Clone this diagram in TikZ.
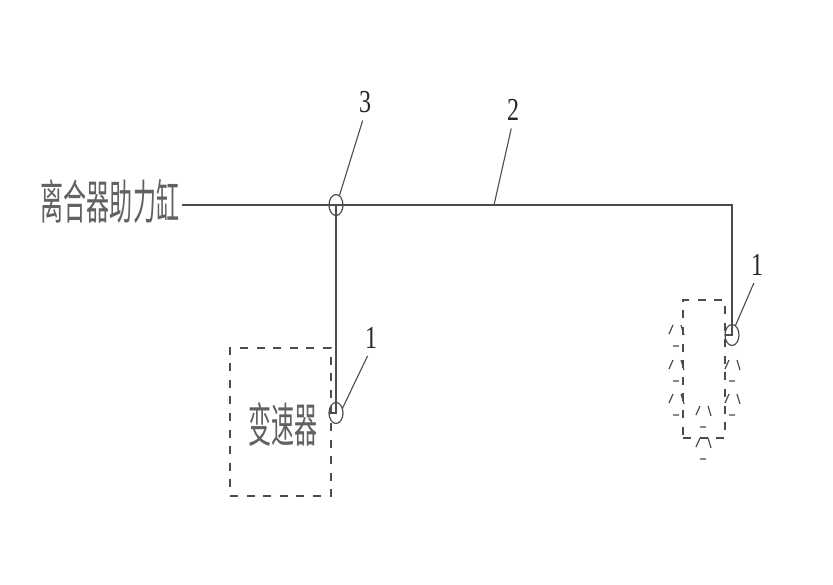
\documentclass[tikz,border=0pt]{standalone}
\usepackage{fontspec}
\setmainfont{Liberation Serif}
\newfontfamily\cjk{Noto Sans CJK SC}
\usetikzlibrary{shapes.geometric}
\definecolor{linegray}{gray}{0.3}
\definecolor{textgray}{gray}{0.38}
\tikzset{pipe/.style={draw=linegray, line width=1.9pt},
	leader/.style={draw=linegray, line width=1.1pt, shorten <=8pt},
	joint/.style={ellipse, draw=linegray, line width=1.2pt, minimum width=14pt, minimum height=21pt, inner sep=0pt, outer sep=0pt},
	dashbox/.style={draw=linegray, line width=1.7pt, dash pattern=on 8pt off 8.6pt, inner sep=0pt, outer sep=0pt},
	cnlabel/.style={font=\cjk\fontsize{47}{47}\selectfont, text=textgray, xscale=0.49, transform shape, inner sep=0pt},
	numlabel/.style={font=\fontsize{32}{32}\selectfont, text=black!85, xscale=0.75, transform shape, inner sep=0pt}}

\begin{document}
\begin{tikzpicture}[x=1pt,y=-1pt]
	\useasboundingbox (0,0) rectangle (833,584);
	\fill[white] (0,0) rectangle (833,584);
	\node[cnlabel] (cylinder) at (110,201) {离合器助力缸};
	\node[dashbox, minimum width=101pt, minimum height=148pt] (gearbox) at (280.5,422) {};
	\node[cnlabel] (gearboxlabel) at (283,424) {变速器};
	\node[dashbox, minimum width=42pt, minimum height=138pt] (engine) at (704,369) {};
	\node[joint] (joint3) at (336,205) {};
	\node[joint] (jointgear) at (336,413) {};
	\node[joint] (jointengine) at (732,335) {};
	\node[numlabel] (num3) at (365,102) {3};
	\node[numlabel] (num2) at (513,110) {2};
	\node[numlabel] (numgear) at (371,338) {1};
	\node[numlabel] (numengine) at (757,265) {1};
	\coordinate (corner) at (jointengine.center |- joint3.center);
	\coordinate (branch2) at (494,205);
	\draw[pipe] (cylinder.east |- corner) ++(3,0) coordinate (pipestart) -- (corner) -- (jointengine.center) -- (jointengine.west); %Draws the main pipe
	\draw[pipe] (joint3.center) -- (jointgear.center) -- (jointgear.west); %Branch to the gearbox
	\draw[leader] (num3.south) -- (joint3.70);
	\draw[leader] (num2.south) -- (branch2);
	\draw[leader] (numgear.south) -- (jointgear.35);
	\draw[leader] (numengine.south) -- (jointengine.70);
	\foreach \x/\y in {676/325,676/360,676/394,732/360,732/394,703/406,703/438}
	\draw[shift={(\x,\y)},color=linegray,line width=1.2pt] (-7,9) -- (-3,0) (5,0) -- (8,10) (-3,21) -- (3,21); %Puts a fragment
\end{tikzpicture}
\end{document}
